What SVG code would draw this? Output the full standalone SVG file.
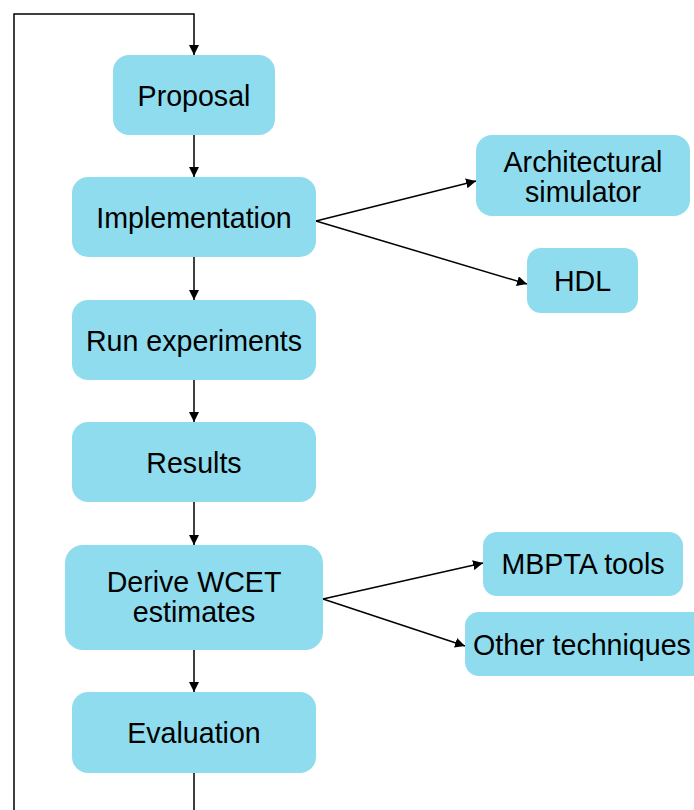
<svg xmlns="http://www.w3.org/2000/svg" width="694" height="810" viewBox="0 0 694 810">
  <defs>
    <marker id="arrow" viewBox="0 0 10 10" refX="10" refY="5" markerWidth="10" markerHeight="10" markerUnits="userSpaceOnUse" orient="auto">
      <path d="M0,0 L10,5 L0,10 z" fill="#000"/>
    </marker>
    <style>
      .box { fill: #8fdcef; }
      .lbl { font-family: "Liberation Sans", Arial, sans-serif; font-size: 28.6px; fill: #000; text-anchor: middle; }
      .conn { stroke: #000; stroke-width: 1.5; fill: none; }
    </style>
  </defs>
  <rect width="694" height="810" fill="#fff"/>

  <g id="connectors">
    <path class="conn" d="M194,773 V810 M14,810 V14 H194 V55" marker-end="url(#arrow)"/>
    <path class="conn" d="M194,135 V177" marker-end="url(#arrow)"/>
    <path class="conn" d="M194,257 V300" marker-end="url(#arrow)"/>
    <path class="conn" d="M194,380 V422" marker-end="url(#arrow)"/>
    <path class="conn" d="M194,502 V545" marker-end="url(#arrow)"/>
    <path class="conn" d="M194,650 V692" marker-end="url(#arrow)"/>
    <path class="conn" d="M316,221 L476,181" marker-end="url(#arrow)"/>
    <path class="conn" d="M316,221 L527,284" marker-end="url(#arrow)"/>
    <path class="conn" d="M323,599 L483,563" marker-end="url(#arrow)"/>
    <path class="conn" d="M323,599 L465,646" marker-end="url(#arrow)"/>
  </g>

  <g id="proposal">
    <rect class="box" x="113" y="55" width="162" height="80" rx="16"/>
    <text class="lbl" x="194" y="106">Proposal</text>
  </g>
  <g id="implementation">
    <rect class="box" x="72" y="177" width="244" height="80" rx="16"/>
    <text class="lbl" x="194" y="228">Implementation</text>
  </g>
  <g id="run-experiments">
    <rect class="box" x="72" y="300" width="244" height="80" rx="16"/>
    <text class="lbl" x="194" y="351">Run experiments</text>
  </g>
  <g id="results">
    <rect class="box" x="72" y="422" width="244" height="80" rx="16"/>
    <text class="lbl" x="194" y="473">Results</text>
  </g>
  <g id="derive-wcet">
    <rect class="box" x="65" y="545" width="258" height="105" rx="18"/>
    <text class="lbl" x="194" y="592">Derive WCET</text>
    <text class="lbl" x="194" y="622">estimates</text>
  </g>
  <g id="evaluation">
    <rect class="box" x="72" y="692" width="244" height="81" rx="16"/>
    <text class="lbl" x="194" y="743">Evaluation</text>
  </g>
  <g id="arch-simulator">
    <rect class="box" x="476" y="135" width="214" height="81" rx="16"/>
    <text class="lbl" x="583" y="172">Architectural</text>
    <text class="lbl" x="583" y="202">simulator</text>
  </g>
  <g id="hdl">
    <rect class="box" x="527" y="248" width="111" height="65" rx="14"/>
    <text class="lbl" x="582.5" y="291">HDL</text>
  </g>
  <g id="mbpta-tools">
    <rect class="box" x="483" y="532" width="200" height="64" rx="14"/>
    <text class="lbl" x="583" y="574">MBPTA tools</text>
  </g>
  <g id="other-techniques">
    <rect class="box" x="465" y="612" width="245" height="64" rx="14"/>
    <text class="lbl" x="582" y="655">Other techniques</text>
  </g>
</svg>
